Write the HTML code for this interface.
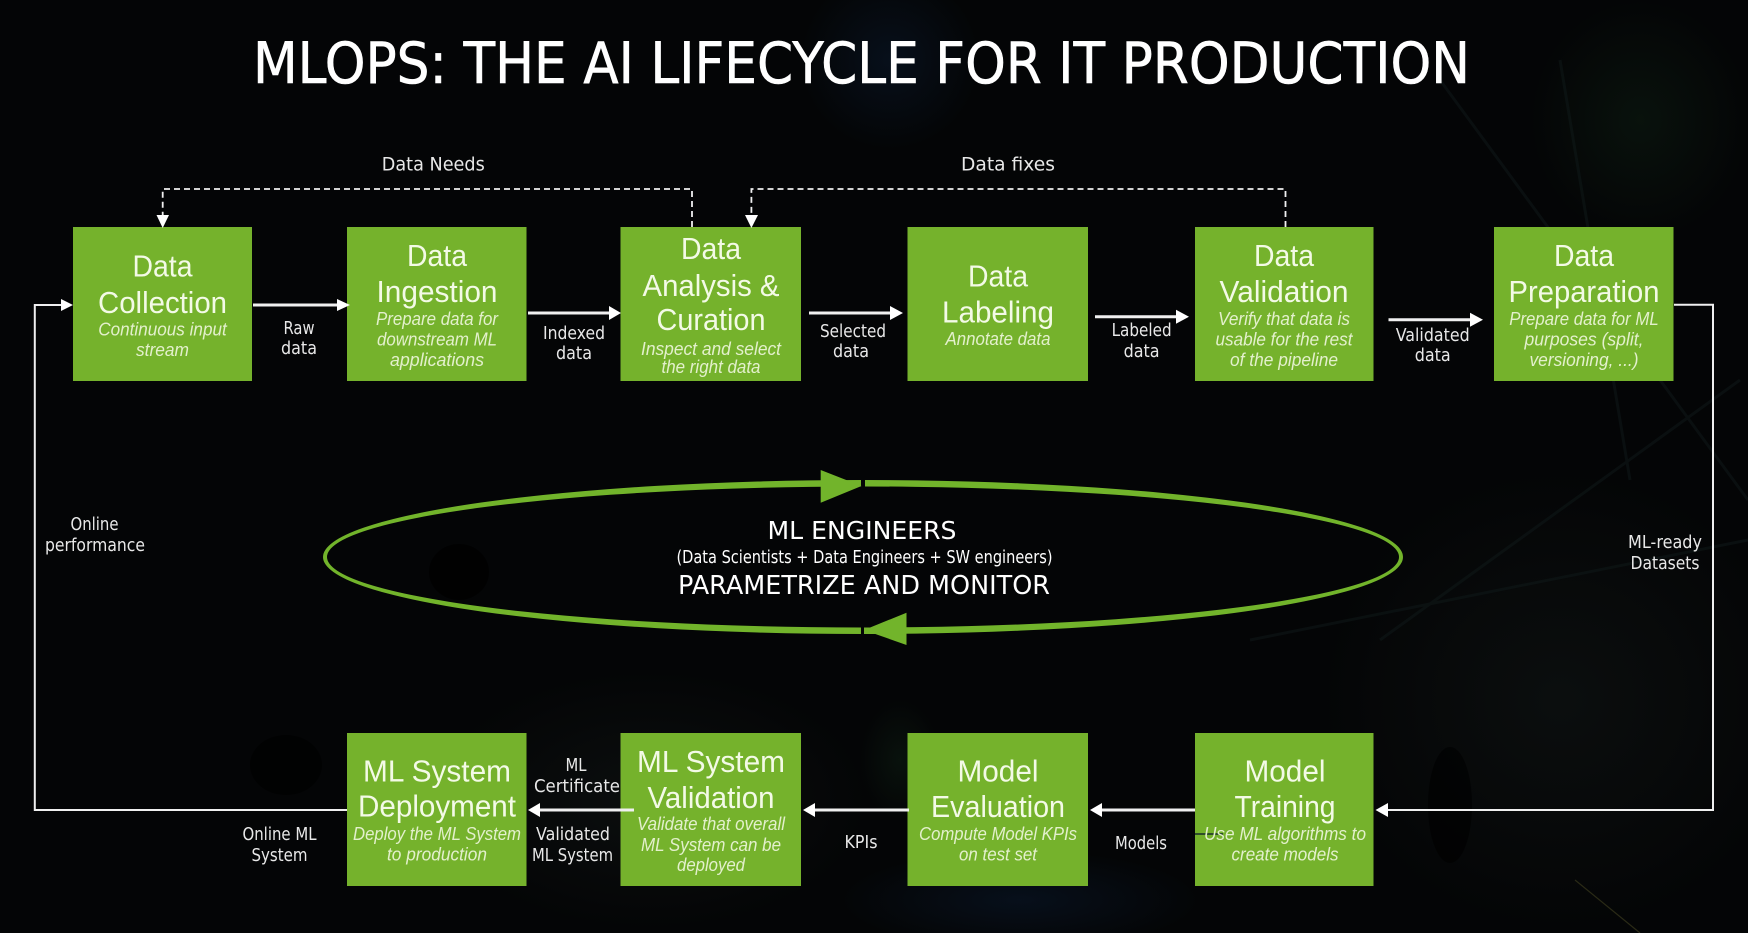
<!DOCTYPE html>
<html><head><meta charset="utf-8"><title>MLOps lifecycle</title>
<style>
html,body{margin:0;padding:0;background:#040506;width:1748px;height:933px;overflow:hidden}
svg{display:block}
.h{font:31px "Liberation Sans",sans-serif;fill:#f3fae6;text-anchor:middle}
.s{font:italic 18.5px "Liberation Sans",sans-serif;fill:#e3f0cc;text-anchor:middle}
.l{font:17.5px "DejaVu Sans",sans-serif;fill:#e8e8e8;text-anchor:middle}
.c{font:25px "DejaVu Sans",sans-serif;fill:#fff;text-anchor:middle}
.box{fill:#75b22c}
.ln{stroke:#f0f0f0;fill:none}
.ah{fill:#fff}
</style></head><body>
<svg width="1748" height="933" viewBox="0 0 1748 933" xmlns="http://www.w3.org/2000/svg">
<defs>
<radialGradient id="gb"><stop offset="0" stop-color="#0a1a30" stop-opacity=".5"/><stop offset="1" stop-color="#0a1a30" stop-opacity="0"/></radialGradient>
<radialGradient id="gg"><stop offset="0" stop-color="#14301c" stop-opacity=".3"/><stop offset="1" stop-color="#14301c" stop-opacity="0"/></radialGradient>
<radialGradient id="gw"><stop offset="0" stop-color="#1c2422" stop-opacity=".3"/><stop offset="1" stop-color="#1c2422" stop-opacity="0"/></radialGradient>
</defs>
<rect width="1748" height="933" fill="#040506"/>
<ellipse cx="890" cy="60" rx="90" ry="90" fill="url(#gb)"/>
<ellipse cx="900" cy="760" rx="40" ry="60" fill="url(#gg)"/>
<ellipse cx="650" cy="800" rx="220" ry="130" fill="url(#gw)"/>
<ellipse cx="1020" cy="900" rx="180" ry="50" fill="url(#gb)"/>
<ellipse cx="1560" cy="700" rx="240" ry="230" fill="url(#gw)"/>
<ellipse cx="1640" cy="120" rx="110" ry="120" fill="url(#gg)"/>
<g stroke="#10191a" stroke-width="3" fill="none" opacity=".5">
<path d="M1440 80L1748 500M1560 60L1630 480M1740 380L1380 640M1250 640L1748 540"/>
</g>
<path d="M1575 880L1640 933" stroke="#2a2a16" stroke-width="1.2"/>
<ellipse cx="1450" cy="805" rx="22" ry="58" fill="#000" opacity=".6"/>
<ellipse cx="286" cy="765" rx="36" ry="30" fill="#000" opacity=".6"/>
<ellipse cx="459" cy="572" rx="30" ry="28" fill="#000" opacity=".7"/>

<text x="861.500" y="83" font-family="DejaVu Sans" font-size="57" fill="#fff" stroke="#fff" stroke-width=".6" text-anchor="middle" textLength="1217" lengthAdjust="spacingAndGlyphs">MLOPS: THE AI LIFECYCLE FOR IT PRODUCTION</text>

<!-- boxes -->
<rect class="box" x="73" y="227" width="179" height="154"/>
<rect class="box" x="347" y="227" width="179.500" height="154"/>
<rect class="box" x="620.500" y="227" width="180.500" height="154"/>
<rect class="box" x="907.500" y="227" width="180.500" height="154"/>
<rect class="box" x="1195" y="227" width="178.500" height="154"/>
<rect class="box" x="1494" y="227" width="179.500" height="154"/>
<rect class="box" x="347" y="733" width="179.500" height="153"/>
<rect class="box" x="620.500" y="733" width="180.500" height="153"/>
<rect class="box" x="907.500" y="733" width="180.500" height="153"/>
<rect class="box" x="1195" y="733" width="178.500" height="153"/>

<!-- dashed connectors -->
<g stroke="#f0f0f0" stroke-width="1.8" stroke-dasharray="6 4" fill="none">
<path d="M692 227V189H162.700V216"/>
<path d="M1285.500 227V189H751.400V216"/>
</g>
<path class="ah" d="M156.500 215H169L162.700 228Z"/>
<path class="ah" d="M745 215H758L751.400 228Z"/>

<!-- solid connectors -->
<g class="ln" stroke-width="3">
<path d="M253 305H340"/><path d="M528 313H612"/><path d="M809 313H894"/><path d="M1095 316.700H1180"/><path d="M1388.500 319.700H1474"/>
<path d="M1195 810H1100"/><path d="M909 810H812"/><path d="M634 810H537"/>
</g>
<g class="ln" stroke-width="2">
<path d="M1674 304.700H1713V810H1386"/>
<path d="M347 810H34.800V305H62"/>
</g>
<path class="ah" d="M337 299L350 305L337 311Z"/>
<path class="ah" d="M609 306L621 313L609 320Z"/>
<path class="ah" d="M890 306L903 313L890 320Z"/>
<path class="ah" d="M1176 309.700L1189 316.700L1176 323.700Z"/>
<path class="ah" d="M1470 312.700L1483 319.700L1470 326.700Z"/>
<path class="ah" d="M61 299L73 305L61 311Z"/>
<path class="ah" d="M1388 803L1375.500 810L1388 817Z"/>
<path class="ah" d="M1102 803L1090 810L1102 817Z"/>
<path class="ah" d="M815 803L803 810L815 817Z"/>
<path class="ah" d="M540 803L528 810L540 817Z"/>
<path d="M1195 834H1223" stroke="#25402a" stroke-width="1.800"/>

<!-- ellipse -->
<path fill-rule="evenodd" fill="#72b42b" d="M323 557A540 77 0 1 1 1403 557A540 77 0 1 1 323 557ZM327 557A536 70.500 0 1 0 1399 557A536 70.500 0 1 0 327 557Z"/>
<rect x="861" y="476" width="4" height="16" fill="#040506"/>
<rect x="861" y="622" width="3" height="16" fill="#040506"/>
<path d="M820.700 470L861.500 486L820.700 502.700Z" fill="#72b42b"/>
<path d="M906.500 612.700L864 630L906.500 645Z" fill="#72b42b"/>
<text class="c" x="862" y="539" textLength="189" lengthAdjust="spacingAndGlyphs">ML ENGINEERS</text>
<text class="c" x="864.500" y="563" style="font-size:17.5px" textLength="376" lengthAdjust="spacingAndGlyphs">(Data Scientists + Data Engineers + SW engineers)</text>
<text class="c" x="864" y="594" style="font-size:26px" textLength="372" lengthAdjust="spacingAndGlyphs">PARAMETRIZE AND MONITOR</text>

<!-- box 1 -->
<text class="h" x="162.500" y="276.700" textLength="60" lengthAdjust="spacingAndGlyphs">Data</text>
<text class="h" x="162.500" y="313" textLength="129" lengthAdjust="spacingAndGlyphs">Collection</text>
<text class="s" x="162.500" y="335.700" textLength="128.500" lengthAdjust="spacingAndGlyphs">Continuous input</text>
<text class="s" x="162.500" y="356" textLength="53" lengthAdjust="spacingAndGlyphs">stream</text>
<!-- box 2 -->
<text class="h" x="437" y="266" textLength="60" lengthAdjust="spacingAndGlyphs">Data</text>
<text class="h" x="437" y="302" textLength="121" lengthAdjust="spacingAndGlyphs">Ingestion</text>
<text class="s" x="437" y="325" textLength="122" lengthAdjust="spacingAndGlyphs">Prepare data for</text>
<text class="s" x="437" y="345.500" textLength="120" lengthAdjust="spacingAndGlyphs">downstream ML</text>
<text class="s" x="437" y="366" textLength="94" lengthAdjust="spacingAndGlyphs">applications</text>
<!-- box 3 -->
<text class="h" x="711" y="259" textLength="60" lengthAdjust="spacingAndGlyphs">Data</text>
<text class="h" x="711" y="296" textLength="137" lengthAdjust="spacingAndGlyphs">Analysis &amp;</text>
<text class="h" x="711" y="330" textLength="109" lengthAdjust="spacingAndGlyphs">Curation</text>
<text class="s" x="711" y="355" textLength="140" lengthAdjust="spacingAndGlyphs">Inspect and select</text>
<text class="s" x="711" y="373" textLength="99" lengthAdjust="spacingAndGlyphs">the right data</text>
<!-- box 4 -->
<text class="h" x="998" y="286.700" textLength="60" lengthAdjust="spacingAndGlyphs">Data</text>
<text class="h" x="998" y="322.700" textLength="112" lengthAdjust="spacingAndGlyphs">Labeling</text>
<text class="s" x="998" y="345" textLength="105" lengthAdjust="spacingAndGlyphs">Annotate data</text>
<!-- box 5 -->
<text class="h" x="1284" y="266" textLength="60" lengthAdjust="spacingAndGlyphs">Data</text>
<text class="h" x="1284" y="302" textLength="129" lengthAdjust="spacingAndGlyphs">Validation</text>
<text class="s" x="1284" y="325" textLength="132" lengthAdjust="spacingAndGlyphs">Verify that data is</text>
<text class="s" x="1284" y="345.500" textLength="137" lengthAdjust="spacingAndGlyphs">usable for the rest</text>
<text class="s" x="1284" y="366" textLength="108" lengthAdjust="spacingAndGlyphs">of the pipeline</text>
<!-- box 6 -->
<text class="h" x="1584" y="266" textLength="60" lengthAdjust="spacingAndGlyphs">Data</text>
<text class="h" x="1584" y="302" textLength="151" lengthAdjust="spacingAndGlyphs">Preparation</text>
<text class="s" x="1584" y="325" textLength="149.500" lengthAdjust="spacingAndGlyphs">Prepare data for ML</text>
<text class="s" x="1584" y="345.500" textLength="119" lengthAdjust="spacingAndGlyphs">purposes (split,</text>
<text class="s" x="1584" y="366" textLength="109" lengthAdjust="spacingAndGlyphs">versioning, ...)</text>
<!-- deployment -->
<text class="h" x="437" y="781.700" textLength="148" lengthAdjust="spacingAndGlyphs">ML System</text>
<text class="h" x="437" y="816.700" textLength="158" lengthAdjust="spacingAndGlyphs">Deployment</text>
<text class="s" x="437" y="840" textLength="168" lengthAdjust="spacingAndGlyphs">Deploy the ML System</text>
<text class="s" x="437" y="860.700" textLength="100" lengthAdjust="spacingAndGlyphs">to production</text>
<!-- sys validation -->
<text class="h" x="711" y="772" textLength="148" lengthAdjust="spacingAndGlyphs">ML System</text>
<text class="h" x="711" y="808" textLength="127" lengthAdjust="spacingAndGlyphs">Validation</text>
<text class="s" x="711" y="830" textLength="148" lengthAdjust="spacingAndGlyphs">Validate that overall</text>
<text class="s" x="711" y="851" textLength="140" lengthAdjust="spacingAndGlyphs">ML System can be</text>
<text class="s" x="711" y="871" textLength="68" lengthAdjust="spacingAndGlyphs">deployed</text>
<!-- evaluation -->
<text class="h" x="998" y="781.700" textLength="81" lengthAdjust="spacingAndGlyphs">Model</text>
<text class="h" x="998" y="817" textLength="134" lengthAdjust="spacingAndGlyphs">Evaluation</text>
<text class="s" x="998" y="840" textLength="158" lengthAdjust="spacingAndGlyphs">Compute Model KPIs</text>
<text class="s" x="998" y="860.700" textLength="78" lengthAdjust="spacingAndGlyphs">on test set</text>
<!-- training -->
<text class="h" x="1285" y="781.700" textLength="81" lengthAdjust="spacingAndGlyphs">Model</text>
<text class="h" x="1285" y="817" textLength="101" lengthAdjust="spacingAndGlyphs">Training</text>
<text class="s" x="1285" y="840" textLength="162" lengthAdjust="spacingAndGlyphs">Use ML algorithms to</text>
<text class="s" x="1285" y="860.700" textLength="107" lengthAdjust="spacingAndGlyphs">create models</text>

<!-- connector labels -->
<text class="l" x="433.300" y="170.700" style="font-size:19px" textLength="103" lengthAdjust="spacingAndGlyphs">Data Needs</text>
<text class="l" x="1008" y="170.700" style="font-size:19px" textLength="94" lengthAdjust="spacingAndGlyphs">Data fixes</text>
<text class="l" x="299" y="334" textLength="31" lengthAdjust="spacingAndGlyphs">Raw</text>
<text class="l" x="299" y="354" textLength="36" lengthAdjust="spacingAndGlyphs">data</text>
<text class="l" x="574" y="339" textLength="62" lengthAdjust="spacingAndGlyphs">Indexed</text>
<text class="l" x="574" y="359" textLength="36" lengthAdjust="spacingAndGlyphs">data</text>
<text class="l" x="853" y="337" textLength="66" lengthAdjust="spacingAndGlyphs">Selected</text>
<text class="l" x="851" y="357" textLength="36" lengthAdjust="spacingAndGlyphs">data</text>
<text class="l" x="1141.600" y="336" textLength="60" lengthAdjust="spacingAndGlyphs">Labeled</text>
<text class="l" x="1141.600" y="357" textLength="36" lengthAdjust="spacingAndGlyphs">data</text>
<text class="l" x="1432.700" y="341" textLength="74" lengthAdjust="spacingAndGlyphs">Validated</text>
<text class="l" x="1432.700" y="361" textLength="36" lengthAdjust="spacingAndGlyphs">data</text>
<text class="l" x="94.500" y="530" textLength="48" lengthAdjust="spacingAndGlyphs">Online</text>
<text class="l" x="95" y="551" textLength="100" lengthAdjust="spacingAndGlyphs">performance</text>
<text class="l" x="1665" y="548" textLength="74" lengthAdjust="spacingAndGlyphs">ML-ready</text>
<text class="l" x="1665" y="569" textLength="69" lengthAdjust="spacingAndGlyphs">Datasets</text>
<text class="l" x="279.500" y="840" textLength="74" lengthAdjust="spacingAndGlyphs">Online ML</text>
<text class="l" x="279.500" y="861" textLength="56" lengthAdjust="spacingAndGlyphs">System</text>
<text class="l" x="576" y="771" textLength="21" lengthAdjust="spacingAndGlyphs">ML</text>
<text class="l" x="577" y="792" textLength="86" lengthAdjust="spacingAndGlyphs">Certificate</text>
<text class="l" x="573" y="840" textLength="74" lengthAdjust="spacingAndGlyphs">Validated</text>
<text class="l" x="572.500" y="861" textLength="81" lengthAdjust="spacingAndGlyphs">ML System</text>
<text class="l" x="861" y="848" textLength="33" lengthAdjust="spacingAndGlyphs">KPIs</text>
<text class="l" x="1141" y="849" textLength="52" lengthAdjust="spacingAndGlyphs">Models</text>
</svg>
</body></html>
